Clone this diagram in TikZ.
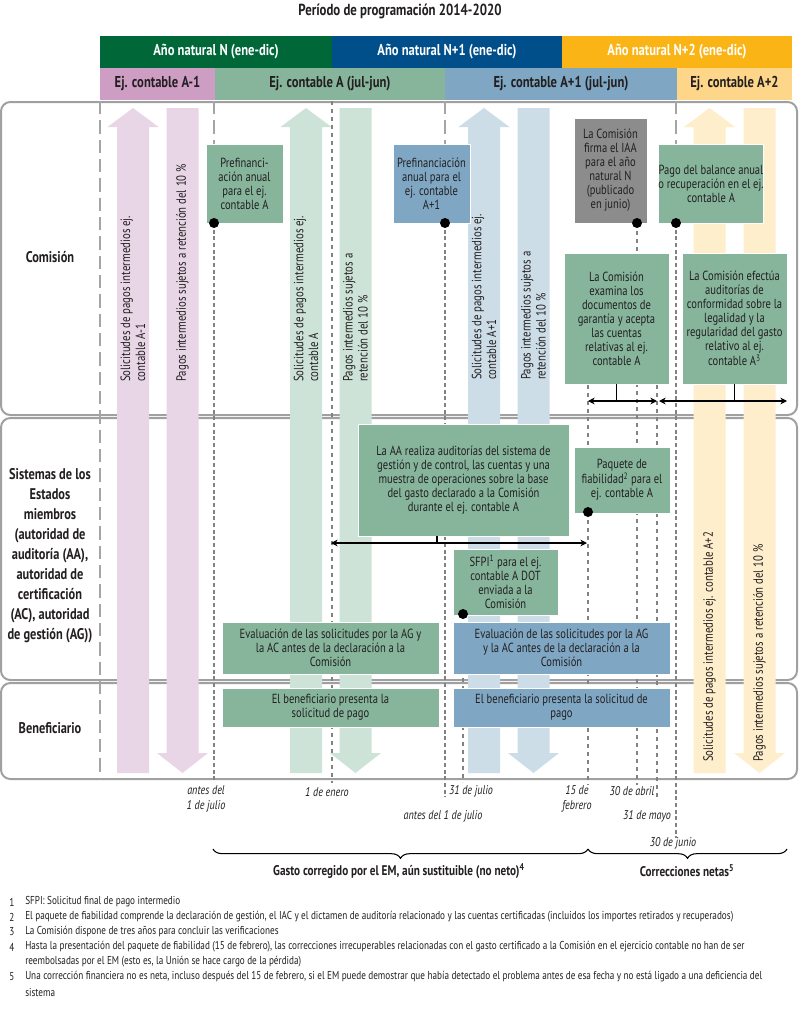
\documentclass[tikz,border=0pt]{standalone}
\usepackage{fontspec}
\setmainfont{PT Sans}[FakeStretch=0.8]
\usetikzlibrary{decorations.pathreplacing,arrows.meta}
\definecolor{cN}{RGB}{0,104,56}
\definecolor{cNa}{RGB}{0,79,138}
\definecolor{cNb}{RGB}{251,180,21}
\definecolor{cAm}{RGB}{205,157,196}
\definecolor{cA}{RGB}{134,181,156}
\definecolor{cAp}{RGB}{127,167,196}
\definecolor{cApp}{RGB}{253,214,138}
\definecolor{aPink}{RGB}{232,214,230}
\definecolor{aGreen}{RGB}{206,227,216}
\definecolor{aBlue}{RGB}{204,221,232}
\definecolor{aOrange}{RGB}{254,238,204}
\definecolor{boxgray}{RGB}{140,140,140}
\definecolor{lanegray}{RGB}{160,160,160}
\definecolor{dgray}{RGB}{165,165,165}
\definecolor{sgray}{RGB}{130,130,130}
\definecolor{txt}{RGB}{35,31,32}
\newcommand\cell[7]{\node[#6, minimum width={(#4-#2)*0.75pt}, minimum height={(#5-#3)*0.75pt}] (#1) at ({(#2+#4)/2},{(#3+#5)/2}) {#7};}
\newcommand\UpArr[2]{\fill[#2] ({#1-16},773) -- ({#1-16},127) -- ({#1-25.5},127) -- (#1,108) -- ({#1+25.5},127) -- ({#1+16},127) -- ({#1+16},773) -- cycle;}
\newcommand\DnArr[2]{\fill[#2] ({#1-16},108) -- ({#1-16},753) -- ({#1-25.5},753) -- (#1,773) -- ({#1+25.5},753) -- ({#1+16},753) -- ({#1+16},108) -- cycle;}
\tikzset{
  titlestyle/.style={inner sep=0, text=txt, font=\bfseries\fontsize{12}{14}\selectfont},
  hdr/.style={inner sep=0, text=white, font=\bfseries\fontsize{11.8}{14}\selectfont},
  sub/.style={inner sep=0, text=txt, font=\bfseries\fontsize{11.8}{14}\selectfont},
  lane/.style={draw=lanegray, line width=1.5pt, rounded corners=7pt, fill=white, inner sep=0},
  lanelbl/.style={inner sep=0, align=center, text=txt, font=\bfseries\fontsize{11.6}{15}\selectfont},
  box/.style={draw=white, line width=0.4pt, inner sep=0, align=center, text=txt, font=\fontsize{9.9}{10.5}\selectfont},
  gbox/.style={box, fill=cA},
  bbox/.style={box, fill=cAp},
  arrtxt/.style={rotate=90, anchor=west, align=left, inner sep=0, text=txt, font=\fontsize{10.1}{11.2}\selectfont},
  datelbl/.style={inner sep=0, align=center, text=txt, font=\itshape\fontsize{9.5}{11.2}\selectfont},
  ldash/.style={draw=dgray, line width=1.5pt, dash pattern=on 10pt off 4.5pt},
  mdash/.style={draw=sgray, line width=1.1pt, dash pattern=on 3pt off 2pt},
  sdash/.style={draw=sgray, line width=0.8pt, dash pattern=on 3pt off 3pt},
  dot/.style={circle, fill=black, inner sep=0, minimum size=7.5pt},
  dbl/.style={{Stealth[length=5pt,width=5pt]}-{Stealth[length=5pt,width=5pt]}, line width=0.8pt, draw=black},
  tick/.style={line width=0.8pt, draw=black},
  brc/.style={decorate, decoration={brace, mirror, amplitude=7pt}, line width=0.8pt, draw=black},
  bracelbl/.style={inner sep=0, text=txt, font=\bfseries\fontsize{10.5}{12}\selectfont},
  fn/.style={anchor=west, inner sep=0, text=txt, font=\fontsize{8.6}{11}\selectfont},
}
\begin{document}
\begin{tikzpicture}[x=0.75pt,y=-0.75pt]
\useasboundingbox (0,0) rectangle (800,1010);
\fill[white] (0,0) rectangle (800,1010);

% title and header
\node[titlestyle] (title) at (400,11) {Período de programación 2014-2020};
\cell{hN}{100}{36}{332}{68}{hdr,fill=cN}{Año natural N (ene-dic)}
\cell{hNa}{332}{36}{562}{68}{hdr,fill=cNa}{Año natural N+1 (ene-dic)}
\cell{hNb}{562}{36}{792}{68}{hdr,fill=cNb}{Año natural N+2 (ene-dic)}
\cell{eAm}{100}{68}{215}{100}{sub,fill=cAm}{Ej. contable A-1}
\cell{eA}{215}{68}{445}{100}{sub,fill=cA}{Ej. contable A (jul-jun)}
\cell{eAp}{445}{68}{677}{100}{sub,fill=cAp}{Ej. contable A+1 (jul-jun)}
\cell{eApp}{677}{68}{792}{100}{sub,fill=cApp}{Ej. contable A+2}

% lanes
\cell{laneC}{1}{102}{797}{415}{lane}{}
\cell{laneS}{1}{418}{797}{680}{lane}{}
\cell{laneB}{1}{683}{797}{779}{lane}{}
\node[lanelbl] (lblC) at (50,257) {Comisión};
\node[lanelbl] (lblS) at (50,556) {Sistemas de los\\Estados\\miembros\\(autoridad de\\auditoría (AA),\\autoridad de\\certificación\\(AC), autoridad\\de gestión (AG))};
\node[lanelbl] (lblB) at (50,728) {Beneficiario};

% big arrows
\UpArr{133}{aPink}
\DnArr{182.5}{aPink}
\UpArr{306}{aGreen}
\DnArr{355.5}{aGreen}
\UpArr{484}{aBlue}
\DnArr{533.5}{aBlue}
\UpArr{709.5}{aOrange}
\DnArr{759.5}{aOrange}
\node[arrtxt] (tPu) at (133,382) {Solicitudes de pagos intermedios ej.\\contable A-1};
\node[arrtxt] (tPd) at (182.5,382) {Pagos intermedios sujetos a retención del 10~\%};
\node[arrtxt] (tGu) at (306,382) {Solicitudes de pagos intermedios ej.\\contable A};
\node[arrtxt] (tGd) at (355.5,382) {Pagos intermedios sujetos a\\retención del 10~\%};
\node[arrtxt] (tBu) at (484,380) {Solicitudes de pagos intermedios ej.\\contable A+1};
\node[arrtxt] (tBd) at (533.5,380) {Pagos intermedios sujetos a\\retención del 10~\%};
\node[arrtxt] (tOu) at (709.5,762) {Solicitudes de pagos intermedios ej. contable A+2};
\node[arrtxt] (tOd) at (759.5,762) {Pagos intermedios sujetos a retención del 10~\%};

% dot positions
\coordinate (p1) at (214,223);
\coordinate (p2) at (445,223);
\coordinate (p3) at (637,223);
\coordinate (p4) at (676,223);
\coordinate (p5) at (588,512);
\coordinate (p6) at (463,614);

% vertical date lines
\draw[ldash] (100,101) -- (100,780);
\draw[ldash] (214,101) -- (p1);
\draw[mdash] (p1) -- (214,782);
\draw[sdash] (332,101) -- (332,783);
\draw[ldash] (445,101) -- (p2);
\draw[mdash] (p2) -- (445,797);
\draw[sdash] (p6) -- (463,782);
\draw[sdash] (588,385) -- (p5);
\draw[sdash] (p5) -- (588,785);
\draw[sdash] (p3) -- (637,785);
\draw[sdash] (657,385) -- (657,800);
\draw[ldash] (676,101) -- (p4);
\draw[mdash] (p4) -- (676,838);

% Comision boxes
\cell{b1}{206}{144}{283}{223}{gbox}{Prefinanci-\\ación anual\\para el ej.\\contable A}
\cell{b2}{393}{144}{470}{223}{bbox}{Prefinanciación\\anual para el\\ej. contable\\A+1}
\cell{b3}{574}{118}{647}{223}{box,fill=boxgray}{La Comisión\\firma el IAA\\para el año\\natural N\\(publicado\\en junio)}
\cell{b4}{660}{144}{762}{223}{gbox}{Pago del balance anual\\o recuperación en el ej.\\contable A}
\cell{b5}{564}{253}{669}{384}{gbox}{La Comisión\\examina los\\documentos de\\garantía y acepta\\las cuentas\\relativas al ej.\\contable A}
\cell{b6}{682}{253}{787}{384}{gbox}{La Comisión efectúa\\auditorías de\\conformidad sobre la\\legalidad y la\\regularidad del gasto\\relativo al ej.\\contable A\textsuperscript{3}}
\coordinate (c5L) at (588,401);
\coordinate (c5R) at (657,401);
\coordinate (c6L) at (659,401);
\coordinate (c6R) at (787,401);
\draw[dbl] (c5L) -- (c5R);
\draw[dbl] (c6L) -- (c6R);
\draw[tick] (b5.south) -- (b5.south |- c5L);
\draw[tick] (b6.south) -- (b6.south |- c6L);

% Systems boxes
\cell{b7}{358}{424}{569}{536}{gbox}{La AA realiza auditorías del sistema de\\gestión y de control, las cuentas y una\\muestra de operaciones sobre la base\\del gasto declarado a la Comisión\\durante el ej. contable A}
\coordinate (c7L) at (331,543);
\coordinate (c7R) at (587,543);
\coordinate (c7T) at (437,536);
\draw[dbl] (c7L) -- (c7R);
\draw[tick] (c7T) -- (c7T |- c7L);
\cell{b8}{574}{447}{670}{513}{gbox}{Paquete de\\fiabilidad\textsuperscript{2} para el\\ej. contable A}
\cell{b9}{453}{549}{558}{615}{gbox}{SFPI\textsuperscript{1} para el ej.\\contable A DOT\\enviada a la\\Comisión}
\cell{b10}{222}{622}{439}{674}{gbox}{Evaluación de las solicitudes por la AG y\\la AC antes de la declaración a la\\Comisión}
\cell{b11}{453}{622}{670}{674}{bbox}{Evaluación de las solicitudes por la AG\\y la AC antes de la declaración a la\\Comisión}

% Beneficiario boxes
\cell{b12}{222}{688}{439}{727}{gbox}{El beneficiario presenta la\\solicitud de pago}
\cell{b13}{453}{688}{670}{727}{bbox}{El beneficiario presenta la solicitud de\\pago}

% dots
\node[dot] (d1) at (p1) {};
\node[dot] (d2) at (p2) {};
\node[dot] (d3) at (p3) {};
\node[dot] (d4) at (p4) {};
\node[dot] (d5) at (p5) {};
\node[dot] (d6) at (p6) {};

% date labels
\node[datelbl] (l1) at (206,799) {antes del\\1 de julio};
\node[datelbl] (l2) at (327,792) {1 de enero};
\node[datelbl] (l3) at (471,791) {31 de julio};
\node[datelbl] (l4) at (443,816) {antes del 1 de julio};
\node[datelbl] (l5) at (577,799) {15 de\\febrero};
\node[datelbl] (l6) at (632,791) {30 de abril};
\node[datelbl] (l7) at (647,816) {31 de mayo};
\node[datelbl] (l8) at (673,843) {30 de junio};

% braces
\coordinate (bA) at (213,849);
\coordinate (bB) at (588,849);
\coordinate (bC) at (787,849);
\draw[brc] (bA) -- (bB);
\draw[brc] (bB) -- (bC);
\node[bracelbl] (g1) at (399,871) {Gasto corregido por el EM, aún sustituible (no neto)\textsuperscript{4}};
\node[bracelbl] (g2) at (687,871) {Correcciones netas\textsuperscript{5}};

% footnotes
\node[fn] (n1) at (9,902) {1};
\node[fn] (f1) at (25,902) {SFPI: Solicitud final de pago intermedio};
\node[fn] (n2) at (9,917) {2};
\node[fn] (f2) at (25,917) {El paquete de fiabilidad comprende la declaración de gestión, el IAC y el dictamen de auditoría relacionado y las cuentas certificadas (incluidos los importes retirados y recuperados)};
\node[fn] (n3) at (9,932) {3};
\node[fn] (f3) at (25,932) {La Comisión dispone de tres años para concluir las verificaciones};
\node[fn] (n4) at (9,947) {4};
\node[fn] (f4a) at (25,947) {Hasta la presentación del paquete de fiabilidad (15 de febrero), las correcciones irrecuperables relacionadas con el gasto certificado a la Comisión en el ejercicio contable no han de ser};
\node[fn] (f4b) at (25,962) {reembolsadas por el EM (esto es, la Unión se hace cargo de la pérdida)};
\node[fn] (n5) at (9,977) {5};
\node[fn] (f5a) at (25,977) {Una corrección financiera no es neta, incluso después del 15 de febrero, si el EM puede demostrar que había detectado el problema antes de esa fecha y no está ligado a una deficiencia del};
\node[fn] (f5b) at (25,992) {sistema};
\end{tikzpicture}
\end{document}
